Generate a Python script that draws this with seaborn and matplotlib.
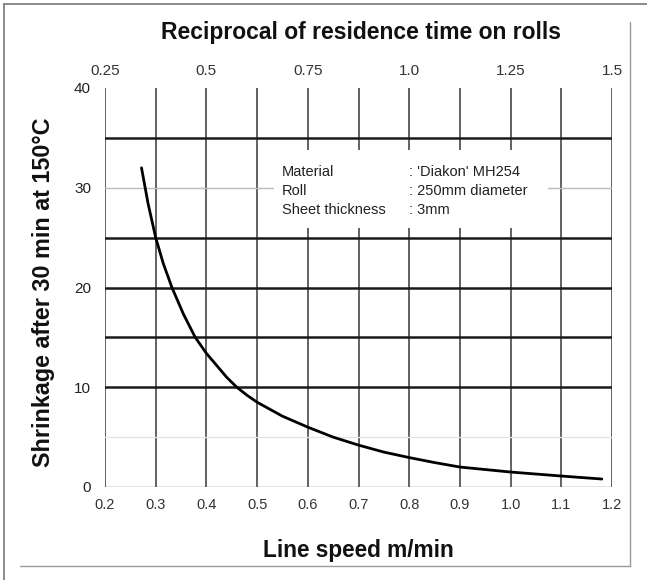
import matplotlib
matplotlib.use("Agg")
import matplotlib.pyplot as plt
from matplotlib.lines import Line2D
from matplotlib.patches import Rectangle
import seaborn as sns
import pandas as pd

# ---- data ----
line_speed = [0.272, 0.285, 0.300, 0.315, 0.332, 0.355, 0.378, 0.400, 0.420, 0.440,
              0.460, 0.480, 0.500, 0.550, 0.600, 0.650, 0.700, 0.750, 0.800,
              0.850, 0.900, 0.950, 1.000, 1.050, 1.100, 1.180]
shrinkage = [32.0, 28.4, 25.0, 22.4, 20.0, 17.3, 15.0, 13.4, 12.2, 11.0,
             10.0, 9.2, 8.5, 7.1, 6.0, 5.0, 4.2, 3.5, 2.95,
             2.45, 2.0, 1.75, 1.5, 1.3, 1.1, 0.8]

x_ticks = [0.2, 0.3, 0.4, 0.5, 0.6, 0.7, 0.8, 0.9, 1.0, 1.1, 1.2]
x_tick_labels = ["0.2", "0.3", "0.4", "0.5", "0.6", "0.7", "0.8", "0.9", "1.0", "1.1", "1.2"]
top_tick_pos = [0.2, 0.4, 0.6, 0.8, 1.0, 1.2]
top_tick_labels = ["0.25", "0.5", "0.75", "1.0", "1.25", "1.5"]
y_ticks = [0, 10, 20, 30, 40]
y_tick_labels = ["0", "10", "20", "30", "40"]
dark_hlines = [10, 15, 20, 25, 35]
faint_hlines = [5, 30]

info_keys = ["Material", "Roll", "Sheet thickness"]
info_vals = [": 'Diakon' MH254", ": 250mm diameter", ": 3mm"]

df = pd.DataFrame({"speed": line_speed, "shrink": shrinkage})

sns.set_theme(style="white")
plt.rcParams["font.family"] = ["Liberation Sans", "DejaVu Sans"]

W, H = 647, 580
fig = plt.figure(figsize=(W / 100, H / 100), dpi=100)
fig.patch.set_facecolor("white")

def fx(px):
    return px / W

def fy(py):
    return 1 - py / H

ax = fig.add_axes([fx(105), fy(487), fx(612) - fx(105), fy(88) - fy(487)])
ax.set_xlim(0.2, 1.2)
ax.set_ylim(0, 40)
for s in ax.spines.values():
    s.set_visible(False)

# grid
ax.vlines(x_ticks, 0, 40, colors="#555555", linewidth=1.3, zorder=1)
ax.axhline(0, color="#777777", linewidth=1.0, zorder=1)
for yv in dark_hlines:
    ax.axhline(yv, color="#1a1a1a", linewidth=1.8, zorder=2)
ax.axhline(faint_hlines[1], color="#bbbbbb", linewidth=1.0, zorder=1)
ax.axhline(faint_hlines[0], color="#e6e6e6", linewidth=1.0, zorder=1)

# white box behind info text
ax.add_patch(Rectangle((0.533, 25.95), 0.54, 7.85, facecolor="white",
                       edgecolor="none", zorder=3))

sns.lineplot(data=df, x="speed", y="shrink", ax=ax, color="black",
             linewidth=2.0, sort=False, zorder=5)

ax.set_xlabel("")
ax.set_ylabel("")
ax.set_xticks(x_ticks)
ax.set_xticklabels(x_tick_labels, fontsize=10.5, color="#333333")
ax.set_yticks(y_ticks)
ax.set_yticklabels(y_tick_labels, fontsize=11, color="#222222")
ax.tick_params(axis="x", length=0, pad=8)
ax.tick_params(axis="y", length=0, pad=10)

top = ax.secondary_xaxis("top")
top.set_xticks(top_tick_pos)
top.set_xticklabels(top_tick_labels, fontsize=11, color="#333333")
top.tick_params(length=0, pad=7)
for s in top.spines.values():
    s.set_visible(False)

# info text
for i, (k, v) in enumerate(zip(info_keys, info_vals)):
    ypx = 172 + i * 19
    fig.text(fx(282), fy(ypx), k, fontsize=10.5, color="#222222", va="center", ha="left", zorder=6)
    fig.text(fx(409), fy(ypx), v, fontsize=10.5, color="#222222", va="center", ha="left", zorder=6)

# titles
fig.text(fx(361), fy(33), "Reciprocal of residence time on rolls", fontsize=16.5,
         fontweight="bold", ha="center", va="center", color="#111111")
fig.text(fx(44), fy(292), "Shrinkage after 30 min at 150°C", fontsize=16.8,
         fontweight="bold", ha="center", va="center", rotation=90, color="#111111")
fig.text(fx(358), fy(550), "Line speed m/min", fontsize=16.3,
         fontweight="bold", ha="center", va="center", color="#111111")

# outer frame lines
fig.add_artist(Line2D([fx(4), fx(647)], [fy(4), fy(4)], color="#777777", linewidth=1.2))
fig.add_artist(Line2D([fx(4), fx(4)], [fy(4), fy(580)], color="#777777", linewidth=1.2))
fig.add_artist(Line2D([fx(630), fx(630)], [fy(22), fy(566)], color="#999999", linewidth=1.0))
fig.add_artist(Line2D([fx(20), fx(630)], [fy(566), fy(566)], color="#999999", linewidth=1.0))

fig.savefig("out.png", dpi=100)
